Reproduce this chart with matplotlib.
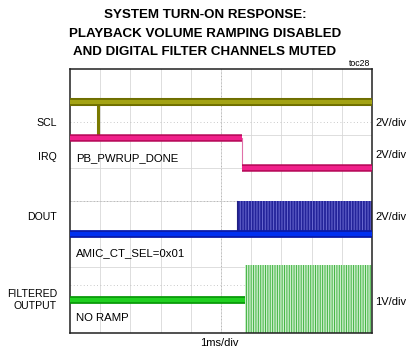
import matplotlib.pyplot as plt

# scope screen: x in divisions (1ms/div), y in divisions (0 = bottom, 8 = top)
scl_level = 7.0
scl_glitch_x = 0.93
scl_glitch_low = 5.9

irq_high = 5.9
irq_low = 5.0
irq_fall_x = 5.7

dout_base = 3.0
dout_top = 4.0
dout_start = 5.53

out_level = 1.0
out_start = 5.8
out_top = 2.06
out_bottom = -0.1

left_labels = ["SCL", "IRQ", "DOUT", "FILTERED\nOUTPUT"]
left_label_y = [123, 157, 217, 300]          # pixel rows
right_labels = ["2V/div", "2V/div", "2V/div", "1V/div"]
right_label_y = [123, 155, 217, 302]
inner_labels = ["PB_PWRUP_DONE", "AMIC_CT_SEL=0x01", "NO RAMP"]
inner_label_y = [158, 253, 318]
title_lines = ["SYSTEM TURN-ON RESPONSE:",
               "PLAYBACK VOLUME RAMPING DISABLED",
               "AND DIGITAL FILTER CHANNELS MUTED"]
title_y = [15.5, 34, 52]

W, H = 409, 358
plt.rcParams['font.family'] = ['Liberation Sans', 'DejaVu Sans']
plt.rcParams['hatch.linewidth'] = 0.7

fig = plt.figure(figsize=(W / 100, H / 100), dpi=100)
ax = fig.add_axes([70 / W, (H - 333) / H, 302 / W, 264 / H])
ax.set_xlim(0, 10)
ax.set_ylim(0, 8)
ax.set_xticks([])
ax.set_yticks([])
for s in ax.spines.values():
    s.set_linewidth(1.1)
    s.set_color('#202020')

# graticule
for gx in range(1, 10):
    ax.axvline(gx, color='#d8d8d8', lw=0.6, zorder=0)
for gy in range(1, 8):
    ax.axhline(gy, color='#d8d8d8', lw=0.6, zorder=0)
ax.axvline(5, color='#a8a8a8', lw=0.6, ls=(0, (1, 3)), zorder=0)
ax.axhline(4, color='#a8a8a8', lw=0.6, ls=(0, (1, 3)), zorder=0)
ax.axhline(6.4, color='#b8b8b8', lw=0.6, ls=(0, (1, 3)), zorder=0)
ax.axhline(1.45, color='#b8b8b8', lw=0.6, ls=(0, (1, 3)), zorder=0)

# SCL
ax.plot([scl_glitch_x, scl_glitch_x], [scl_level, scl_glitch_low], color='#7a7a00', lw=2.2, zorder=3)
ax.plot([0, 10], [scl_level, scl_level], color='#6e6e00', lw=5.8, solid_capstyle='butt', zorder=4)
ax.plot([0, 10], [scl_level, scl_level], color='#a3a314', lw=3.0, solid_capstyle='butt', zorder=4)

# IRQ
ax.plot([irq_fall_x, irq_fall_x], [irq_high, irq_low], color='#e070a8', lw=0.8, zorder=3)
for x0, x1, yy in [(0, irq_fall_x, irq_high), (irq_fall_x, 10, irq_low)]:
    ax.plot([x0, x1], [yy, yy], color='#b80a5a', lw=5.4, solid_capstyle='butt', zorder=4)
    ax.plot([x0, x1], [yy, yy], color='#f0208a', lw=3.0, solid_capstyle='butt', zorder=4)

# DOUT
ax.fill_between([dout_start, 10], dout_base, dout_top, facecolor='#24249a',
                edgecolor='#6a6ad0', hatch='||||||', lw=0, zorder=2)
ax.plot([dout_start, dout_start], [dout_base, dout_top], color='#202080', lw=0.8, zorder=2)
ax.plot([0, 10], [dout_base, dout_base], color='#0a1aa8', lw=5.6, solid_capstyle='butt', zorder=4)
ax.plot([0, 10], [dout_base, dout_base], color='#0030f0', lw=3.0, solid_capstyle='butt', zorder=4)

# filtered output
ax.fill_between([out_start, 10], out_bottom, out_top, facecolor='#cdeecd',
                edgecolor='#40b440', hatch='|||||||', lw=0, zorder=2)
ax.plot([0, out_start], [out_level, out_level], color='#0a9a0a', lw=5.6, solid_capstyle='butt', zorder=4)
ax.plot([0, out_start], [out_level, out_level], color='#20d020', lw=3.0, solid_capstyle='butt', zorder=4)


def fx(px):
    return px / W


def fy(py):
    return 1 - py / H


for t, y in zip(title_lines, title_y):
    fig.text(fx(205), fy(y), t, ha='center', va='center', fontsize=9.6, fontweight='bold')
fig.text(fx(370), fy(63), "toc28", ha='right', va='center', fontsize=6.3)
for t, y in zip(left_labels, left_label_y):
    fig.text(fx(57), fy(y), t, ha='right', va='center', fontsize=7.6, multialignment='right',
             linespacing=1.15)
for t, y in zip(right_labels, right_label_y):
    fig.text(fx(375), fy(y), t, ha='left', va='center', fontsize=8)
for t, y in zip(inner_labels, inner_label_y):
    fig.text(fx(76), fy(y), t, ha='left', va='center', fontsize=8.2, zorder=5)
fig.text(fx(219), fy(343), "1ms/div", ha='center', va='center', fontsize=8)

fig.savefig("out.png", dpi=100)
